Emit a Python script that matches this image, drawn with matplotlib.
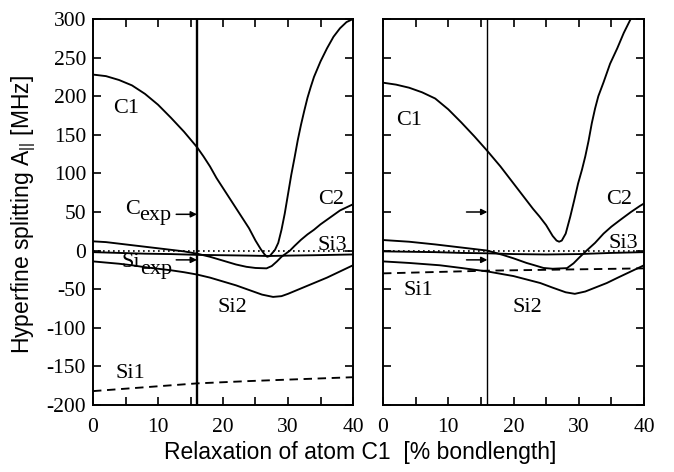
import matplotlib
matplotlib.use("Agg")
import matplotlib.pyplot as plt

plt.rcParams['font.family'] = 'Liberation Serif'
plt.rcParams['axes.unicode_minus'] = False
plt.rcParams['mathtext.fontset'] = 'custom'
plt.rcParams['mathtext.rm'] = 'Liberation Serif'
plt.rcParams['mathtext.sf'] = 'Liberation Sans'

# ---- left panel data (x = relaxation in %, y = A|| in MHz) ----
l_c1_x = [0, 2, 4, 6, 8, 10, 12, 14, 16, 17, 18, 19, 20, 21, 22, 23, 24, 25, 25.8, 26.4,
          26.8, 27.2, 27.6, 28, 28.5, 29, 29.5, 30, 30.5, 31, 31.5, 32, 32.5, 33, 33.5, 34,
          35, 36, 37, 38, 39, 40]
l_c1_y = [228, 226, 221, 214, 203, 189, 172, 154, 134, 122, 109, 94, 81, 68, 55, 42, 29, 13, 2, -5,
          -8, -7, -3, 1, 10, 27, 48, 73, 98, 120, 143, 163, 181, 198, 212, 225,
          245, 262, 277, 288, 296, 300]

l_c2_x = [0, 2, 4, 6, 8, 10, 12, 14, 16, 18, 20, 22, 23.6, 25, 26.7, 27.5, 28.3, 29, 30.3,
          31, 32, 33, 34, 35, 36, 37, 38, 39, 40]
l_c2_y = [12, 11, 9, 7, 5, 3, 1, -1, -4, -8, -13, -18, -21, -22.5, -23, -20, -14, -8, 0,
          6, 14, 21, 27, 34, 40, 46, 52, 56, 60]

l_si3_x = [0, 4, 8, 12, 16, 20, 24, 27, 30, 34, 40]
l_si3_y = [-2, -3, -4, -4.5, -5.5, -6, -6.5, -7, -6.5, -6, -5]

l_si2_x = [0, 2, 4, 6, 8, 10, 12, 14, 16, 18, 20, 22, 24, 26, 27.7, 29, 30, 32, 34, 36, 38, 40]
l_si2_y = [-14, -15.5, -17, -19, -21.5, -23.5, -25.5, -28, -31, -35, -40, -45, -51, -57, -60,
           -59, -56, -49, -42, -35, -27, -19]

l_si1_x = [0, 8, 16, 24, 32, 40]
l_si1_y = [-182, -177, -172, -169, -166.5, -164]

# ---- right panel data ----
r_c1_x = [0, 2, 4, 6, 8, 10, 12, 14, 16, 18, 20, 21, 22, 23, 24, 25, 26, 26.6, 27, 27.4,
          28, 28.7, 29.3, 29.9, 30.5, 31, 31.5, 32, 32.5, 33, 33.8, 34.8, 35.9, 36.9, 37.9,
          39, 40]
r_c1_y = [217.5, 215, 211, 205, 197, 183, 166, 148, 129, 109, 87, 76, 65, 54, 44, 33, 19, 13, 11.5, 13,
          22, 44, 65, 87, 105, 122, 142, 165, 184, 200, 218, 242, 262, 282, 299,
          315, 328]

r_c2_x = [0, 4, 8, 12, 16, 18.4, 20, 22, 23.1, 24.6, 26, 28.2, 29.2, 30.2, 31.2, 32.5,
          33.8, 35, 36.4, 38, 39.4, 40]
r_c2_y = [13.7, 11.5, 8, 4, 0, -5.7, -10, -16, -18.7, -22.5, -23.5, -22.7, -16.5, -8, 0, 10,
          22, 31, 40, 50, 58, 61]

r_si3_x = [0, 4, 8, 12, 16, 20, 25, 30, 35, 40]
r_si3_y = [-1, -1.5, -2, -3, -3.5, -4.5, -5, -4.5, -3, -2]

r_si2_x = [0, 4, 8.7, 12, 16, 20, 24.1, 26, 28, 29.4, 31, 32.5, 34.3, 36, 38, 40]
r_si2_y = [-14, -16, -19, -22.5, -27, -33, -42, -48, -54, -56, -53, -48, -42, -35, -27, -19]

r_si1_x = [0, 16, 40]
r_si1_y = [-29.5, -26, -23]

x_line = 16
left_arrows = [47, -12]
right_arrows = [50, -12]

# curve labels: (text, x, y)
left_labels = [("C1", 3.1, 178), ("C2", 34.6, 61), ("Si3", 34.6, 1),
               ("Si2", 19.1, -80), ("Si1", 3.4, -165),
               ("C", 4.9, 48), ("exp", 7.1, 39),
               ("Si", 4.4, -21), ("exp", 7.3, -30)]
right_labels = [("C1", 2.0, 163), ("C2", 34.2, 61), ("Si3", 34.5, 3),
                ("Si2", 19.8, -80), ("Si1", 3.1, -57)]

W, H = 674, 472
fig = plt.figure(figsize=(W / 100, H / 100), dpi=100)
ax1 = fig.add_axes([93 / W, 67 / H, 260 / W, 386 / H])
ax2 = fig.add_axes([383 / W, 67 / H, 261 / W, 386 / H])


def draw_panel(ax, c1, c2, si3, si2, si1, arrows, labels, vlw):
    lw = 1.35
    ax.plot([0, 40], [0, 0], color='black', lw=1.2, linestyle=(0, (1, 2)))
    ax.plot(c1[0], c1[1], color='black', lw=lw)
    ax.plot(c2[0], c2[1], color='black', lw=lw)
    ax.plot(si3[0], si3[1], color='black', lw=lw)
    ax.plot(si2[0], si2[1], color='black', lw=lw)
    ax.plot(si1[0], si1[1], color='black', lw=lw, dashes=(4.5, 3))
    ax.axvline(x_line, color='black', lw=vlw)
    for ya in arrows:
        ax.annotate("", xy=(x_line, ya), xytext=(x_line - 3.2, ya),
                    arrowprops=dict(arrowstyle='-|>', color='black', lw=1.1,
                                    mutation_scale=9, shrinkA=0, shrinkB=0))
    for txt, tx, ty in labels:
        ax.text(tx, ty, txt, fontsize=16, ha='left', va='baseline')
    ax.set_xlim(0, 40)
    ax.set_ylim(-200, 300)
    ax.set_xticks([0, 10, 20, 30, 40])
    ax.set_xticks([5, 15, 25, 35], minor=True)
    ax.set_yticks(range(-200, 301, 50))
    ax.tick_params(which='both', direction='in', top=True, right=True,
                   length=5.5, width=1.2, labelsize=15.5)
    ax.tick_params(axis='x', pad=9)
    ax.tick_params(axis='y', pad=5)
    for s in ax.spines.values():
        s.set_linewidth(1.4)


draw_panel(ax1, (l_c1_x, l_c1_y), (l_c2_x, l_c2_y), (l_si3_x, l_si3_y),
           (l_si2_x, l_si2_y), (l_si1_x, l_si1_y), left_arrows, left_labels, 1.7)
draw_panel(ax2, (r_c1_x, r_c1_y), (r_c2_x, r_c2_y), (r_si3_x, r_si3_y),
           (r_si2_x, r_si2_y), (r_si1_x, r_si1_y), right_arrows, right_labels, 1.0)
ax2.tick_params(axis='y', labelleft=False)

fig.text(24 / W, 1 - 214 / H, r"Hyperfine splitting A$_{\mathsf{||}}$ [MHz]",
         rotation=90, ha='center', va='center', family='Liberation Sans', fontsize=16.5)
fig.text(360 / W, 1 - 453 / H, "Relaxation of atom C1  [% bondlength]",
         ha='center', va='center', family='Liberation Sans', fontsize=16.5)

fig.savefig("out.png", dpi=100)
